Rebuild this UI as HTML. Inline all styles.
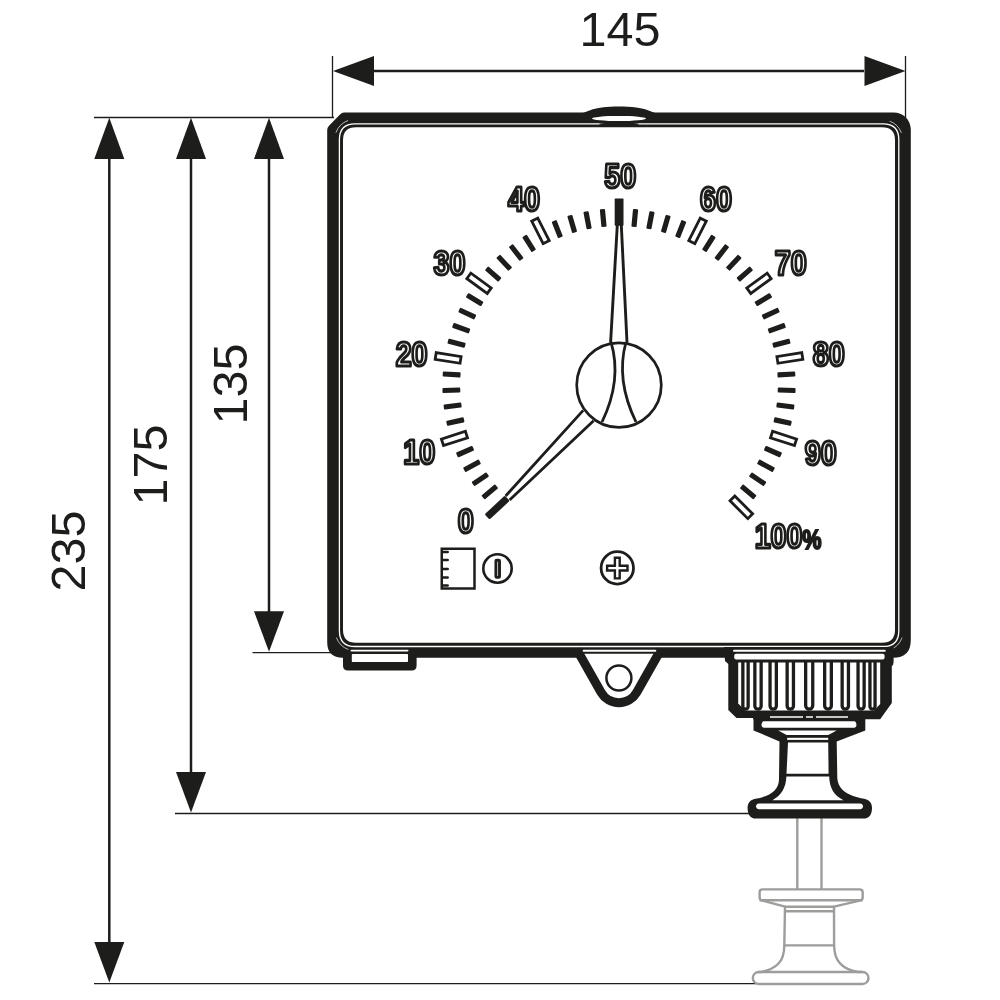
<!DOCTYPE html>
<html><head><meta charset="utf-8"><style>
html,body{margin:0;padding:0;background:#fff;}
svg{display:block;will-change:transform;}
</style></head><body>
<svg width="1000" height="1000" viewBox="0 0 1000 1000">
<rect width="1000" height="1000" fill="#fff"/>
<g id="dims">
<line x1="374" y1="71" x2="864" y2="71" stroke="#1d1d1b" stroke-width="2.5"/>
<path d="M333 71 L374 56 L374 86 Z" fill="#1d1d1b"/>
<path d="M905.5 71 L864.5 56 L864.5 86 Z" fill="#1d1d1b"/>
<line x1="332.5" y1="56" x2="332.5" y2="118" stroke="#1d1d1b" stroke-width="1.3"/>
<line x1="905.5" y1="56" x2="905.5" y2="118" stroke="#1d1d1b" stroke-width="1.3"/>
<line x1="94" y1="117.5" x2="334" y2="117.5" stroke="#1d1d1b" stroke-width="1.3"/>
<line x1="252.5" y1="652.7" x2="334" y2="652.7" stroke="#1d1d1b" stroke-width="1.3"/>
<line x1="175" y1="813.5" x2="752" y2="813.5" stroke="#1d1d1b" stroke-width="1.3"/>
<line x1="94" y1="983.6" x2="757" y2="983.6" stroke="#1d1d1b" stroke-width="1.3"/>
<line x1="109.3" y1="158" x2="109.3" y2="943.6" stroke="#1d1d1b" stroke-width="2.5"/>
<path d="M109.3 117.8 L94.3 159 L124.3 159 Z" fill="#1d1d1b"/>
<path d="M109.3 982.6 L94.3 942.1 L124.3 942.1 Z" fill="#1d1d1b"/>
<line x1="191" y1="158" x2="191" y2="773.5" stroke="#1d1d1b" stroke-width="2.5"/>
<path d="M191 117.8 L176 159 L206 159 Z" fill="#1d1d1b"/>
<path d="M191 812.5 L176 772.0 L206 772.0 Z" fill="#1d1d1b"/>
<line x1="269" y1="158" x2="269" y2="612.7" stroke="#1d1d1b" stroke-width="2.5"/>
<path d="M269 117.8 L254 159 L284 159 Z" fill="#1d1d1b"/>
<path d="M269 651.7 L254 611.2 L284 611.2 Z" fill="#1d1d1b"/>
</g>
<g font-family="Liberation Sans, sans-serif" font-size="48.5" fill="#1d1d1b">
<text x="620" y="46" text-anchor="middle">145</text>
<text transform="translate(84.6 551) rotate(-90)" text-anchor="middle">235</text>
<text transform="translate(166.9 465) rotate(-90)" text-anchor="middle">175</text>
<text transform="translate(246.5 384) rotate(-90)" text-anchor="middle">135</text>
</g>
<path d="M342.5 112.4 H893.5 C903 112.4 910.8 119.5 910.8 129.5 V640 Q910.8 657.8 893 657.8 H343 Q327.2 657.8 327.2 642 V130 Q327.2 127.5 329 125.8 L340 114.5 Q342 112.4 344 112.4 Z M356 127.2 H882 Q895 127.2 895 140.2 V629.8 Q895 642.8 882 642.8 H356 Q343 642.8 343 629.8 V140.2 Q343 127.2 356 127.2 Z" fill="#1d1d1b" fill-rule="evenodd"/>
<path d="M355 123.8 H883 Q898.8 123.8 898.8 139.6 V630.7 Q898.8 646.5 883 646.5 H355.2 Q339.4 646.5 339.4 630.7 V139.6 Q339.4 123.8 355 123.8 Z" fill="none" stroke="#ffffff" stroke-width="1.3"/>
<path d="M335.92 132.66 A20.3 20.3 0 0 1 348.06 120.52 M889.70 121.18 A19.6 19.6 0 0 1 901.42 132.90 M902.08 637.64 A20.3 20.3 0 0 1 889.94 649.78 M348.36 649.49 A20 20 0 0 1 336.41 637.54" fill="none" stroke="#ffffff" stroke-width="0.9" stroke-opacity="0.75"/>
<path d="M583 113 C597 107 607 106.6 619 106.6 C631 106.6 641 107 655 113 Z" fill="#1d1d1b"/>
<ellipse cx="619" cy="118.5" rx="27" ry="2.6" fill="#ffffff"/>
<ellipse cx="619" cy="124.2" rx="20" ry="1.6" fill="#1d1d1b"/>
<g fill="none" stroke="#9d9d9c" stroke-width="2.4" stroke-linejoin="round">
<path d="M797.3 818 V889.4 M821.5 818 V889.4"/>
<path d="M762.6 889.4 H859.7 Q862.7 889.4 862.7 892.4 V897.2 Q862.7 900.2 859.7 900.6 L834.0 906.7 L834.1 945.4 C834.3 962.0 843.0 969.0 858.0 972.0 H862.5 A6 6 0 0 1 862.5 984.0 H758.8 A6 6 0 0 1 758.8 972.0 H761 C776.0 969.0 784.3 962.0 784.3 945.4 L785.0 906.7 L762.6 900.6 Q759.6 900.2 759.6 897.2 V892.4 Q759.6 889.4 762.6 889.4 Z"/>
<path d="M759.6 900.2 H862.7 M784.7 906.7 H834.3 M785.3 911.2 H833.2 M784.3 945.4 H834.1 M758 972 H862"/>
</g>
<path d="M753.5 716 H865.3 V730.4 L836.7 741.4 L837.3 777.8 C838 790 848 796 864 798.8 C869.5 800 872 803 872 808 C872 814.5 869 818.6 864 818.6 H755.5 C750.5 818.6 747.6 814.5 747.6 808 C747.6 803 750 800 755.5 798.8 C771 796 779.5 790 779 777.8 L779.5 741.4 L753.5 730.4 Z" fill="#1d1d1b"/>
<path d="M764 721.3 H854 C857 721.3 857.5 727.8 854 727.8 H764 C760.5 727.8 761 721.3 764 721.3 Z" fill="#ffffff"/>
<path d="M778.2 730.6 H836.7 L828.2 735 H786.6 Z" fill="#ffffff"/>
<rect x="787.2" y="737.8" width="41" height="2.1" fill="#ffffff"/>
<path d="M788 742.6 H828.2 L828.6 773.8 H786.5 Z" fill="#ffffff"/>
<path d="M786.4 776.6 H829.2 C829.5 788 834 796 843.6 800.2 H772.4 C781 796 786 788 786.4 776.6 Z" fill="#ffffff"/>
<path d="M759 803.4 H860 C864 803.4 864 809.3 860 809.3 H759 C755 809.3 755 803.4 759 803.4 Z" fill="#ffffff"/>
<path d="M724 647 H893.6 V662 Q893.6 665 891.8 666 V703 L880.2 719.2 H753 V718 H736.5 L728.3 710 V664 L725 661 Z" fill="#1d1d1b"/>
<rect x="733" y="649.8" width="152.8" height="2" rx="1" fill="#ffffff"/>
<rect x="734.2" y="653.8" width="150.4" height="5.6" rx="2" fill="#ffffff"/>
<path d="M738.2 662.6 H880.2 V704 L874 710.5 H745 L738.2 703.5 Z" fill="#ffffff"/>
<path d="M742.85 662 V706.50 A2.65 2.65 0 0 0 748.15 706.50 V662" fill="none" stroke="#1d1d1b" stroke-width="3.3"/>
<path d="M754.85 662 V706.00 A3.15 3.15 0 0 0 761.15 706.00 V662" fill="none" stroke="#1d1d1b" stroke-width="3.3"/>
<path d="M770.05 662 V706.00 A3.15 3.15 0 0 0 776.35 706.00 V662" fill="none" stroke="#1d1d1b" stroke-width="3.3"/>
<path d="M787.15 662 V706.00 A3.15 3.15 0 0 0 793.45 706.00 V662" fill="none" stroke="#1d1d1b" stroke-width="3.3"/>
<path d="M805.65 662 V705.60 A3.55 3.55 0 0 0 812.75 705.60 V662" fill="none" stroke="#1d1d1b" stroke-width="3.3"/>
<path d="M824.65 662 V705.80 A3.35 3.35 0 0 0 831.35 705.80 V662" fill="none" stroke="#1d1d1b" stroke-width="3.3"/>
<path d="M842.15 662 V706.00 A3.15 3.15 0 0 0 848.45 706.00 V662" fill="none" stroke="#1d1d1b" stroke-width="3.3"/>
<path d="M858.05 662 V706.10 A3.05 3.05 0 0 0 864.15 706.10 V662" fill="none" stroke="#1d1d1b" stroke-width="3.3"/>
<path d="M869.95 662 V706.60 A2.55 2.55 0 0 0 875.05 706.60 V662" fill="none" stroke="#1d1d1b" stroke-width="3.3"/>
<path d="M770 717 H803 M806 717 H813 M816 717 H848" stroke="#ffffff" stroke-width="1.5"/>
<path d="M579.2 653.75 L601.0 692.3 A20.6 20.6 0 0 0 636.8 692.3 L658.6 653.75" fill="#ffffff" stroke="#1d1d1b" stroke-width="9" stroke-linejoin="round" stroke-linecap="square"/>
<rect x="582.6" y="649.8" width="73.7" height="2" rx="1" fill="#ffffff"/>
<circle cx="618.9" cy="678" r="12.5" fill="none" stroke="#1d1d1b" stroke-width="2.5"/>
<path d="M343 650 H416.6 V665.5 Q416.6 670.5 411.6 670.5 H348 Q343 670.5 343 665.5 Z" fill="#1d1d1b"/>
<rect x="351.8" y="654" width="56.2" height="8" rx="0.8" fill="#ffffff"/>
<rect x="350.5" y="649.8" width="58" height="1.6" rx="0.8" fill="#ffffff"/>
<g id="ticks">
<rect x="-2.6" y="-176.6" width="5.2" height="17.8" rx="1.0" fill="#1d1d1b" transform="translate(619.0 385.0) rotate(-129.60)"/>
<rect x="-2.6" y="-176.6" width="5.2" height="17.8" rx="1.0" fill="#1d1d1b" transform="translate(619.0 385.0) rotate(-124.20)"/>
<rect x="-2.6" y="-176.6" width="5.2" height="17.8" rx="1.0" fill="#1d1d1b" transform="translate(619.0 385.0) rotate(-118.80)"/>
<rect x="-2.6" y="-176.6" width="5.2" height="17.8" rx="1.0" fill="#1d1d1b" transform="translate(619.0 385.0) rotate(-113.40)"/>
<rect x="-3.4" y="-185.6" width="6.8" height="25.2" fill="none" stroke="#1d1d1b" stroke-width="2.8" transform="translate(619.0 385.0) rotate(-108.00)"/>
<rect x="-2.6" y="-176.6" width="5.2" height="17.8" rx="1.0" fill="#1d1d1b" transform="translate(619.0 385.0) rotate(-102.60)"/>
<rect x="-2.6" y="-176.6" width="5.2" height="17.8" rx="1.0" fill="#1d1d1b" transform="translate(619.0 385.0) rotate(-97.20)"/>
<rect x="-2.6" y="-176.6" width="5.2" height="17.8" rx="1.0" fill="#1d1d1b" transform="translate(619.0 385.0) rotate(-91.80)"/>
<rect x="-2.6" y="-176.6" width="5.2" height="17.8" rx="1.0" fill="#1d1d1b" transform="translate(619.0 385.0) rotate(-86.40)"/>
<rect x="-3.4" y="-185.6" width="6.8" height="25.2" fill="none" stroke="#1d1d1b" stroke-width="2.8" transform="translate(619.0 385.0) rotate(-81.00)"/>
<rect x="-2.6" y="-176.6" width="5.2" height="17.8" rx="1.0" fill="#1d1d1b" transform="translate(619.0 385.0) rotate(-75.60)"/>
<rect x="-2.6" y="-176.6" width="5.2" height="17.8" rx="1.0" fill="#1d1d1b" transform="translate(619.0 385.0) rotate(-70.20)"/>
<rect x="-2.6" y="-176.6" width="5.2" height="17.8" rx="1.0" fill="#1d1d1b" transform="translate(619.0 385.0) rotate(-64.80)"/>
<rect x="-2.6" y="-176.6" width="5.2" height="17.8" rx="1.0" fill="#1d1d1b" transform="translate(619.0 385.0) rotate(-59.40)"/>
<rect x="-3.4" y="-185.6" width="6.8" height="25.2" fill="none" stroke="#1d1d1b" stroke-width="2.8" transform="translate(619.0 385.0) rotate(-54.00)"/>
<rect x="-2.6" y="-176.6" width="5.2" height="17.8" rx="1.0" fill="#1d1d1b" transform="translate(619.0 385.0) rotate(-48.60)"/>
<rect x="-2.6" y="-176.6" width="5.2" height="17.8" rx="1.0" fill="#1d1d1b" transform="translate(619.0 385.0) rotate(-43.20)"/>
<rect x="-2.6" y="-176.6" width="5.2" height="17.8" rx="1.0" fill="#1d1d1b" transform="translate(619.0 385.0) rotate(-37.80)"/>
<rect x="-2.6" y="-176.6" width="5.2" height="17.8" rx="1.0" fill="#1d1d1b" transform="translate(619.0 385.0) rotate(-32.40)"/>
<rect x="-3.4" y="-185.6" width="6.8" height="25.2" fill="none" stroke="#1d1d1b" stroke-width="2.8" transform="translate(619.0 385.0) rotate(-27.00)"/>
<rect x="-2.6" y="-176.6" width="5.2" height="17.8" rx="1.0" fill="#1d1d1b" transform="translate(619.0 385.0) rotate(-21.60)"/>
<rect x="-2.6" y="-176.6" width="5.2" height="17.8" rx="1.0" fill="#1d1d1b" transform="translate(619.0 385.0) rotate(-16.20)"/>
<rect x="-2.6" y="-176.6" width="5.2" height="17.8" rx="1.0" fill="#1d1d1b" transform="translate(619.0 385.0) rotate(-10.80)"/>
<rect x="-2.6" y="-176.6" width="5.2" height="17.8" rx="1.0" fill="#1d1d1b" transform="translate(619.0 385.0) rotate(-5.40)"/>
<rect x="-4.3" y="-186.5" width="8.8" height="27.3" rx="0.8" fill="#1d1d1b" transform="translate(619.0 385.0) rotate(0)"/>
<rect x="-2.6" y="-176.6" width="5.2" height="17.8" rx="1.0" fill="#1d1d1b" transform="translate(619.0 385.0) rotate(5.40)"/>
<rect x="-2.6" y="-176.6" width="5.2" height="17.8" rx="1.0" fill="#1d1d1b" transform="translate(619.0 385.0) rotate(10.80)"/>
<rect x="-2.6" y="-176.6" width="5.2" height="17.8" rx="1.0" fill="#1d1d1b" transform="translate(619.0 385.0) rotate(16.20)"/>
<rect x="-2.6" y="-176.6" width="5.2" height="17.8" rx="1.0" fill="#1d1d1b" transform="translate(619.0 385.0) rotate(21.60)"/>
<rect x="-3.4" y="-185.6" width="6.8" height="25.2" fill="none" stroke="#1d1d1b" stroke-width="2.8" transform="translate(619.0 385.0) rotate(27.00)"/>
<rect x="-2.6" y="-176.6" width="5.2" height="17.8" rx="1.0" fill="#1d1d1b" transform="translate(619.0 385.0) rotate(32.40)"/>
<rect x="-2.6" y="-176.6" width="5.2" height="17.8" rx="1.0" fill="#1d1d1b" transform="translate(619.0 385.0) rotate(37.80)"/>
<rect x="-2.6" y="-176.6" width="5.2" height="17.8" rx="1.0" fill="#1d1d1b" transform="translate(619.0 385.0) rotate(43.20)"/>
<rect x="-2.6" y="-176.6" width="5.2" height="17.8" rx="1.0" fill="#1d1d1b" transform="translate(619.0 385.0) rotate(48.60)"/>
<rect x="-3.4" y="-185.6" width="6.8" height="25.2" fill="none" stroke="#1d1d1b" stroke-width="2.8" transform="translate(619.0 385.0) rotate(54.00)"/>
<rect x="-2.6" y="-176.6" width="5.2" height="17.8" rx="1.0" fill="#1d1d1b" transform="translate(619.0 385.0) rotate(59.40)"/>
<rect x="-2.6" y="-176.6" width="5.2" height="17.8" rx="1.0" fill="#1d1d1b" transform="translate(619.0 385.0) rotate(64.80)"/>
<rect x="-2.6" y="-176.6" width="5.2" height="17.8" rx="1.0" fill="#1d1d1b" transform="translate(619.0 385.0) rotate(70.20)"/>
<rect x="-2.6" y="-176.6" width="5.2" height="17.8" rx="1.0" fill="#1d1d1b" transform="translate(619.0 385.0) rotate(75.60)"/>
<rect x="-3.4" y="-185.6" width="6.8" height="25.2" fill="none" stroke="#1d1d1b" stroke-width="2.8" transform="translate(619.0 385.0) rotate(81.00)"/>
<rect x="-2.6" y="-176.6" width="5.2" height="17.8" rx="1.0" fill="#1d1d1b" transform="translate(619.0 385.0) rotate(86.40)"/>
<rect x="-2.6" y="-176.6" width="5.2" height="17.8" rx="1.0" fill="#1d1d1b" transform="translate(619.0 385.0) rotate(91.80)"/>
<rect x="-2.6" y="-176.6" width="5.2" height="17.8" rx="1.0" fill="#1d1d1b" transform="translate(619.0 385.0) rotate(97.20)"/>
<rect x="-2.6" y="-176.6" width="5.2" height="17.8" rx="1.0" fill="#1d1d1b" transform="translate(619.0 385.0) rotate(102.60)"/>
<rect x="-3.4" y="-185.6" width="6.8" height="25.2" fill="none" stroke="#1d1d1b" stroke-width="2.8" transform="translate(619.0 385.0) rotate(108.00)"/>
<rect x="-2.6" y="-176.6" width="5.2" height="17.8" rx="1.0" fill="#1d1d1b" transform="translate(619.0 385.0) rotate(113.40)"/>
<rect x="-2.6" y="-176.6" width="5.2" height="17.8" rx="1.0" fill="#1d1d1b" transform="translate(619.0 385.0) rotate(118.80)"/>
<rect x="-2.6" y="-176.6" width="5.2" height="17.8" rx="1.0" fill="#1d1d1b" transform="translate(619.0 385.0) rotate(124.20)"/>
<rect x="-2.6" y="-176.6" width="5.2" height="17.8" rx="1.0" fill="#1d1d1b" transform="translate(619.0 385.0) rotate(129.60)"/>
<rect x="-3.4" y="-185.6" width="6.8" height="25.2" fill="none" stroke="#1d1d1b" stroke-width="2.8" transform="translate(619.0 385.0) rotate(135.00)"/>
</g>
<path d="M617.3 225 L610.6 342.5 M621.3 225 L627 342.5" stroke="#1d1d1b" stroke-width="2.9" fill="none"/>
<path d="M611 342 Q622.3 380 602 422 M626 342 Q615.5 380 636 422" stroke="#1d1d1b" stroke-width="2.8" fill="none"/>
<circle cx="619.0" cy="385.1" r="42.3" fill="none" stroke="#1d1d1b" stroke-width="2.7"/>
<path d="M505.6 496 L583.2 410.4 M509.6 500 L593.6 420.8" stroke="#1d1d1b" stroke-width="2.8" fill="none"/>
<rect x="-3.6" y="-13.8" width="7.2" height="27.6" rx="1.5" fill="#1d1d1b" transform="translate(497.2 507.6) rotate(-133)"/>
<g font-family="Liberation Sans, sans-serif" font-size="34.6" font-weight="bold" fill="#ffffff" stroke="#1d1d1b" stroke-width="3.2" stroke-linejoin="round" text-anchor="middle">
<text transform="translate(465.8 532.5) scale(0.83 1)">0</text>
<text transform="translate(419.3 464.3) scale(0.83 1)">10</text>
<text transform="translate(411.6 366.2) scale(0.83 1)">20</text>
<text transform="translate(449.4 275.3) scale(0.83 1)">30</text>
<text transform="translate(524 211.1) scale(0.83 1)">40</text>
<text transform="translate(620.2 188.0) scale(0.83 1)">50</text>
<text transform="translate(716 211.2) scale(0.83 1)">60</text>
<text transform="translate(790.7 275.09999999999997) scale(0.83 1)">70</text>
<text transform="translate(828.8 366.3) scale(0.83 1)">80</text>
<text transform="translate(820.7 464.7) scale(0.83 1)">90</text>
<text transform="translate(778.6 548.1) scale(0.83 1)">100</text>
</g>
<text transform="translate(811.8 548.6) scale(0.8 1)" font-family="Liberation Sans, sans-serif" font-size="27" font-weight="bold" fill="#1d1d1b" stroke="#1d1d1b" stroke-width="2" text-anchor="middle">%</text>
<rect x="441.75" y="548.75" width="32.75" height="39.75" fill="none" stroke="#1d1d1b" stroke-width="2.5"/>
<line x1="443" y1="552" x2="447.6" y2="552" stroke="#1d1d1b" stroke-width="2.7" stroke-linecap="round"/>
<line x1="443" y1="560" x2="447.6" y2="560" stroke="#1d1d1b" stroke-width="2.7" stroke-linecap="round"/>
<line x1="443" y1="569" x2="447.6" y2="569" stroke="#1d1d1b" stroke-width="2.7" stroke-linecap="round"/>
<line x1="443" y1="577.5" x2="447.6" y2="577.5" stroke="#1d1d1b" stroke-width="2.7" stroke-linecap="round"/>
<line x1="443" y1="585.5" x2="447.6" y2="585.5" stroke="#1d1d1b" stroke-width="2.7" stroke-linecap="round"/>
<circle cx="497.5" cy="568.5" r="14.2" fill="none" stroke="#1d1d1b" stroke-width="2.6"/>
<rect x="495.9" y="560.2" width="3.6" height="17.2" rx="0.8" fill="#ffffff" stroke="#1d1d1b" stroke-width="2.9"/>
<circle cx="617.3" cy="567.9" r="16.2" fill="none" stroke="#1d1d1b" stroke-width="2.8"/>
<path d="M614.9 557.7 H619.7 V565.7 H627.5 V570.5 H619.7 V578.4 H614.9 V570.5 H607.1 V565.7 H614.9 Z" fill="#ffffff" stroke="#1d1d1b" stroke-width="2.4" stroke-linejoin="miter"/>
</svg>
</body></html>
